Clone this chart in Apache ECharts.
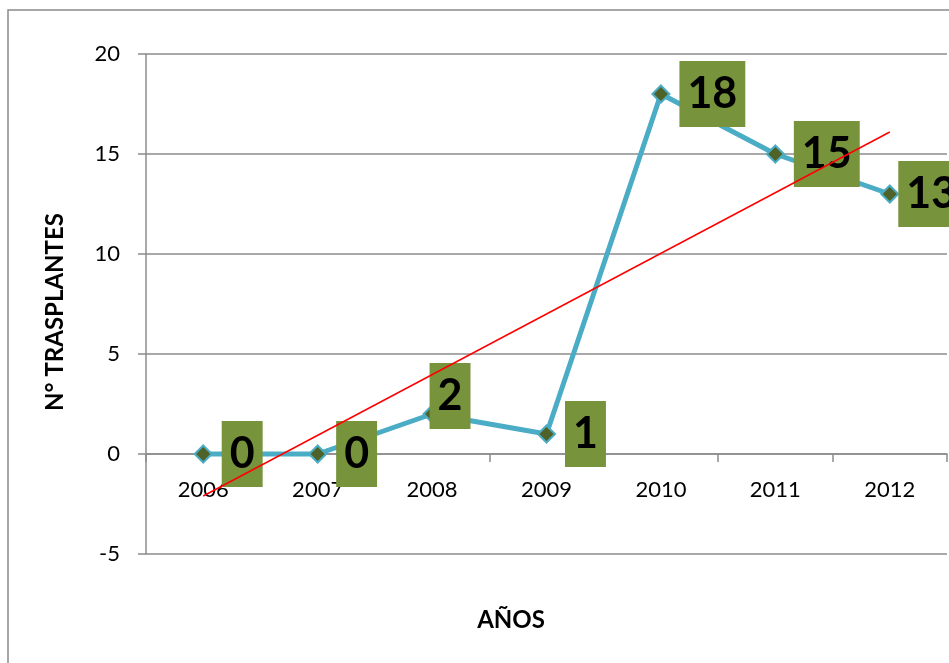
<!DOCTYPE html>
<html>
<head>
<meta charset="utf-8">
<script src="https://cdn.jsdelivr.net/npm/echarts@6/dist/echarts.min.js"></script>
<style>
html,body{margin:0;padding:0;background:#fff;}
#chart{width:949px;height:663px;}
</style>
</head>
<body>
<div id="chart"></div>
<script>
const categories = ['2006','2007','2008','2009','2010','2011','2012'];
const trasplantes = [0, 0, 2, 1, 18, 15, 13];
const trendValues = [-2.1, null, null, null, null, null, 16.1];
const yTicks = [-5, 0, 5, 10, 15, 20];
const yTitle = 'N° TRASPLANTES';
const xTitle = 'AÑOS';

const FONT = 'Lato, "Open Sans", sans-serif';
const labelOffsets = {2: [-21, -18], 6: [-10, 0]};

const mainData = trasplantes.map((v, i) => {
  const item = { value: v };
  if (labelOffsets[i]) item.label = { offset: labelOffsets[i] };
  return item;
});

const chart = echarts.init(document.getElementById('chart'));
chart.setOption({
  animation: false,
  backgroundColor: '#fff',
  grid: { left: 146, top: 54, right: 2, bottom: 109, containLabel: false },
  graphic: [
    { type: 'rect', shape: { x: 8, y: 10, width: 1200, height: 900 },
      style: { fill: 'none', stroke: '#8a8a8a', lineWidth: 1.5 }, z: 0, silent: true },
    { type: 'text', x: 511, y: 620,
      style: { text: xTitle, font: 'bold 24px ' + FONT, fill: '#000', align: 'center', verticalAlign: 'middle' } },
    { type: 'text', x: 55, y: 312, rotation: Math.PI / 2,
      style: { text: yTitle, font: 'bold 24px ' + FONT, fill: '#000', align: 'center', verticalAlign: 'middle' } }
  ],
  xAxis: {
    type: 'category',
    data: categories,
    boundaryGap: true,
    offset: -100,
    axisLine: { onZero: false, lineStyle: { color: '#8c8c8c', width: 1.5 } },
    axisTick: { show: true, length: 8, inside: false, lineStyle: { color: '#8c8c8c', width: 1.5 } },
    axisLabel: { color: '#000', fontSize: 22, fontFamily: FONT, margin: 25 },
    splitLine: { show: false }
  },
  yAxis: {
    type: 'value',
    min: yTicks[0],
    max: yTicks[yTicks.length - 1],
    interval: 5,
    axisLine: { show: true, lineStyle: { color: '#8c8c8c', width: 1.5 } },
    axisTick: { show: true, length: 8, lineStyle: { color: '#8c8c8c', width: 1.5 } },
    axisLabel: { color: '#000', fontSize: 22, fontFamily: FONT, margin: 26 },
    splitLine: { show: true, lineStyle: { color: '#8c8c8c', width: 1.5 } }
  },
  series: [
    {
      type: 'line',
      data: mainData,
      z: 2,
      symbol: 'diamond',
      symbolSize: 17,
      lineStyle: { color: '#4BACC6', width: 5 },
      itemStyle: { color: '#4F6228', borderColor: '#4BACC6', borderWidth: 2 },
      label: {
        show: true,
        position: 'right',
        distance: 9,
        color: '#000',
        fontSize: 43,
        fontWeight: 'bold',
        fontFamily: FONT,
        lineHeight: 46,
        backgroundColor: '#77933C',
        padding: [10, 8, 10, 8]
      }
    },
    {
      type: 'line',
      data: trendValues,
      connectNulls: true,
      z: 5,
      symbol: 'none',
      lineStyle: { color: '#FF0000', width: 1.5 },
      silent: true
    }
  ]
});
</script>
</body>
</html>
